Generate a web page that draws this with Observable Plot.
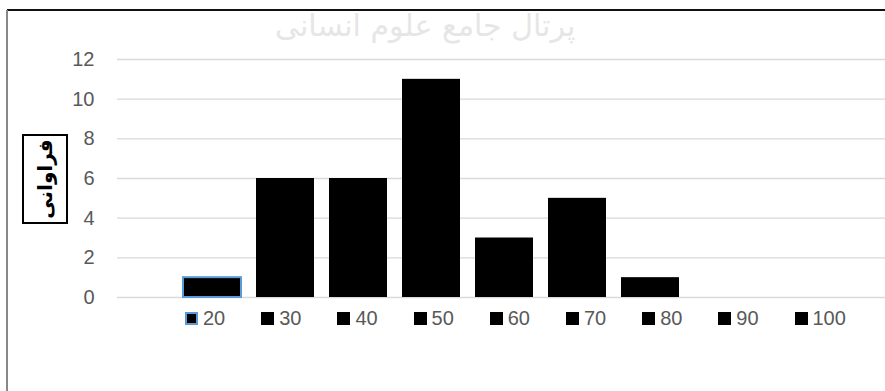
<!DOCTYPE html>
<html>
<head>
<meta charset="utf-8">
<script src="https://cdn.jsdelivr.net/npm/d3@7"></script>
<script src="https://cdn.jsdelivr.net/npm/@observablehq/plot@0.6"></script>
<style>
  html, body { margin: 0; padding: 0; background: #fff; }
  #wrap { position: relative; width: 885px; height: 391px; overflow: hidden; background: #fff; }
  #wm { position: absolute; left: 275px; top: 8px; font-family: "DejaVu Sans", sans-serif; font-size: 30px; line-height: 36px; color: #e6e6e6; white-space: nowrap; z-index: 0; }
  #topline { position: absolute; left: 7px; top: 9px; width: 878px; height: 2px; background: #111; z-index: 1; }
  #leftline { position: absolute; left: 6px; top: 10px; width: 2px; height: 381px; background: #888; z-index: 1; }
  #chart { position: absolute; left: 0; top: 0; z-index: 2; }
  #ytitle { position: absolute; left: 22px; top: 134px; width: 42px; height: 86px; border: 2px solid #000; z-index: 3; display: flex; align-items: center; justify-content: center; background: #fff; }
  #ytitle span { display: block; transform: rotate(-90deg); font-family: "DejaVu Sans", sans-serif; font-weight: bold; font-size: 20px; white-space: nowrap; color: #000; }
  #legend { position: absolute; left: 185px; top: 307px; display: grid; grid-auto-flow: column; grid-auto-columns: 76.2px; z-index: 3; }
  .item { display: flex; align-items: center; font-family: "Liberation Sans", sans-serif; font-size: 20px; color: #595959; height: 22px; }
  .sw { width: 13px; height: 13px; background: #000; margin-right: 5px; box-sizing: border-box; }
  .sw.first { border: 2px solid #5b9bd5; }
</style>
</head>
<body>
<div id="wrap">
  <div id="wm">پرتال جامع علوم انسانی</div>
  <div id="topline"></div>
  <div id="leftline"></div>
  <div id="chart"></div>
  <div id="ytitle"><span>فراوانی</span></div>
  <div id="legend"></div>
</div>
<script>
const categories = ["20", "30", "40", "50", "60", "70", "80", "90", "100"];
const frequencies = [1, 6, 6, 11, 3, 5, 1, 0, 0];
const yTicks = [0, 2, 4, 6, 8, 10, 12];
const yTitle = "فراوانی";

const data = categories.map((c, i) => ({category: c, value: frequencies[i]}));

const chart = Plot.plot({
  width: 885,
  height: 391,
  marginLeft: 117,
  marginRight: 0,
  marginTop: 59,
  marginBottom: 94,
  style: {background: "transparent", fontFamily: "Liberation Sans, sans-serif"},
  x: {domain: categories, range: [165.6, 842.4], padding: 0.21, axis: null},
  y: {domain: [0, 12]},
  marks: [
    Plot.gridY(yTicks, {stroke: "#d9d9d9", strokeOpacity: 1, strokeWidth: 1.3}),
    Plot.axisY(yTicks, {tickSize: 0, tickPadding: 23, fontSize: 20, fill: "#595959", label: null}),
    Plot.barY(data, {
      x: "category",
      y: "value",
      fill: "#000",
      stroke: d => d.category === "20" ? "#5b9bd5" : "none",
      strokeWidth: 2
    })
  ]
});
document.getElementById("chart").appendChild(chart);

document.querySelector("#ytitle span").textContent = yTitle;

const legend = document.getElementById("legend");
categories.forEach((c, i) => {
  const item = document.createElement("div");
  item.className = "item";
  const sw = document.createElement("div");
  sw.className = "sw" + (i === 0 ? " first" : "");
  const t = document.createElement("span");
  t.textContent = c;
  item.appendChild(sw);
  item.appendChild(t);
  legend.appendChild(item);
});
</script>
</body>
</html>
